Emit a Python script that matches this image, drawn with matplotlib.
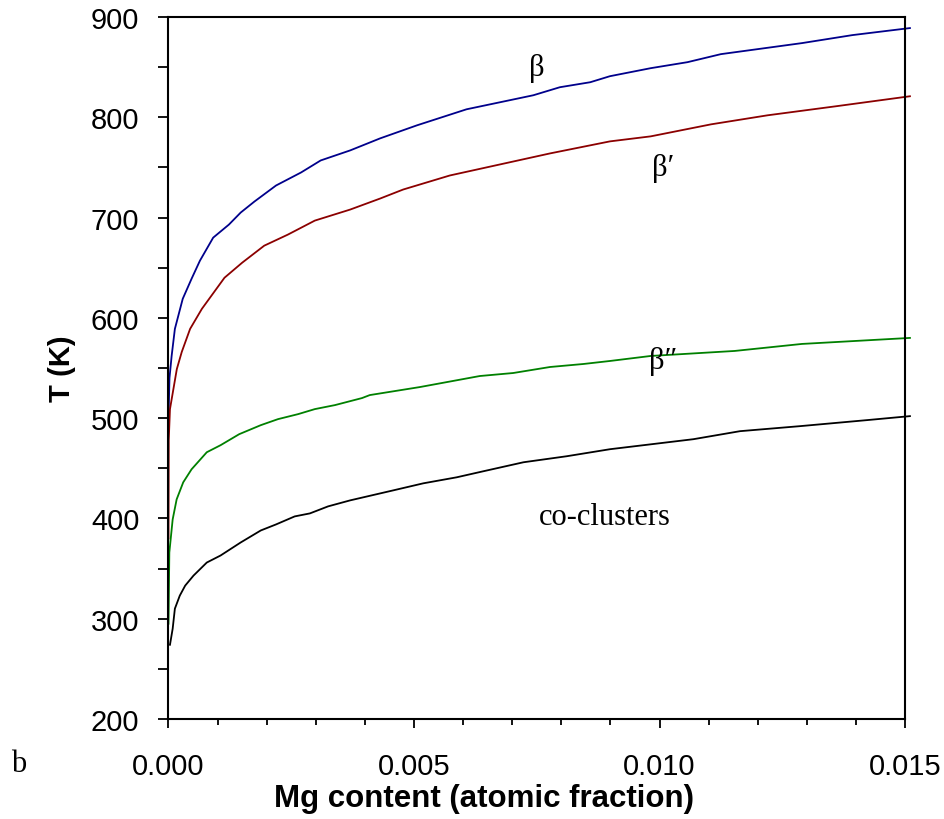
import matplotlib
matplotlib.use("Agg")
import matplotlib.pyplot as plt
from matplotlib.ticker import MultipleLocator, FormatStrFormatter

# curves (x = Mg atomic fraction, T in K)
beta_x = [0, 0.00002, 0.000064, 0.00013, 0.00029, 0.00047, 0.00064, 0.00091, 0.00123,
          0.00147, 0.00175, 0.00219, 0.0027, 0.0031, 0.0037, 0.00431, 0.00506, 0.00607,
          0.00743, 0.00797, 0.00859, 0.00899, 0.00982, 0.01057, 0.01125, 0.0129, 0.01393, 0.0151]
beta_T = [500, 540, 562, 589, 619, 639, 657, 680, 693, 705, 716, 732, 745, 757, 767, 779,
          792, 808, 822, 830, 835, 841, 849, 855, 863, 874, 882, 889]

betap_x = [0, 0.000005, 0.00003, 0.00017, 0.00027, 0.00044, 0.00068, 0.00114, 0.0015,
           0.00195, 0.00243, 0.00298, 0.0037, 0.00431, 0.00478, 0.00573, 0.00675, 0.00777,
           0.00899, 0.00982, 0.01105, 0.0122, 0.01359, 0.0151]
betap_T = [380, 478, 509, 549, 566, 589, 609, 640, 655, 672, 683, 697, 708, 719, 728, 742,
           753, 764, 776, 781, 793, 802, 811, 821]

betapp_x = [0, 0.000017, 0.000085, 0.000166, 0.0003, 0.00047, 0.00078, 0.00106, 0.00144,
            0.00188, 0.00223, 0.00264, 0.00298, 0.00339, 0.00394, 0.0041, 0.00512, 0.00634,
            0.00702, 0.00777, 0.00845, 0.00899, 0.00982, 0.01153, 0.0129, 0.0151]
betapp_T = [295, 366, 399, 419, 436, 449, 466, 473, 484, 493, 499, 504, 509, 513, 520, 523,
            531, 542, 545, 551, 554, 557, 562, 567, 574, 580]

clus_x = [0.00003, 0.000085, 0.00013, 0.00023, 0.00034, 0.00051, 0.00078, 0.00106, 0.00147,
          0.00188, 0.00219, 0.00257, 0.00288, 0.00325, 0.0037, 0.00458, 0.00519, 0.00587,
          0.00641, 0.00723, 0.00811, 0.00899, 0.01069, 0.01164, 0.01286, 0.01422, 0.0151]
clus_T = [274, 290, 310, 323, 333, 343, 356, 363, 376, 388, 394, 402, 405, 412, 418, 428,
          435, 441, 447, 456, 462, 469, 479, 487, 492, 498, 502]

plt.rcParams["font.family"] = ["Liberation Sans", "DejaVu Sans"]
serif = ["Liberation Serif", "DejaVu Serif"]

fig = plt.figure(figsize=(9.45, 8.2), dpi=100)
ax = fig.add_axes([0.1783, 0.122, 0.7794, 0.856])

lw = 1.3
ax.plot(beta_x, beta_T, color="#00008B", lw=lw, clip_on=False)
ax.plot(betap_x, betap_T, color="#8B0000", lw=lw, clip_on=False)
ax.plot(betapp_x, betapp_T, color="#008000", lw=lw, clip_on=False)
ax.plot(clus_x, clus_T, color="black", lw=lw, clip_on=False)

ax.set_xlim(0, 0.015)
ax.set_ylim(200, 900)
ax.xaxis.set_major_locator(MultipleLocator(0.005))
ax.xaxis.set_minor_locator(MultipleLocator(0.001))
ax.yaxis.set_major_locator(MultipleLocator(100))
ax.yaxis.set_minor_locator(MultipleLocator(50))
ax.xaxis.set_major_formatter(FormatStrFormatter("%.3f"))

for s in ax.spines.values():
    s.set_linewidth(1.5)
ax.tick_params(which="both", direction="out", width=1.3, labelsize=21)
ax.tick_params(axis="x", which="major", length=6.5, pad=17)
ax.tick_params(axis="x", which="minor", length=4.5)
ax.tick_params(axis="y", which="both", length=7, pad=14)

ax.set_xlabel("Mg content (atomic fraction)", fontsize=22.5, fontweight="bold")
ax.xaxis.set_label_coords(0.428, -0.091)
ax.set_ylabel("T (K)", fontsize=21, fontweight="bold")
ax.yaxis.set_label_coords(-0.125, 0.5)

ax.text(0.0075, 850, "β", family=serif, fontsize=22, ha="center", va="center")
ax.text(0.01007, 750, "β′", family=serif, fontsize=22, ha="center", va="center")
ax.text(0.01007, 557, "β″", family=serif, fontsize=22, ha="center", va="center")
ax.text(0.00889, 402, "co-clusters", family=serif, fontsize=22, ha="center", va="center")
fig.text(19 / 945, 1 - 765 / 820, "b", family=serif, fontsize=22, ha="center", va="center")

fig.savefig("out.png", dpi=100)
